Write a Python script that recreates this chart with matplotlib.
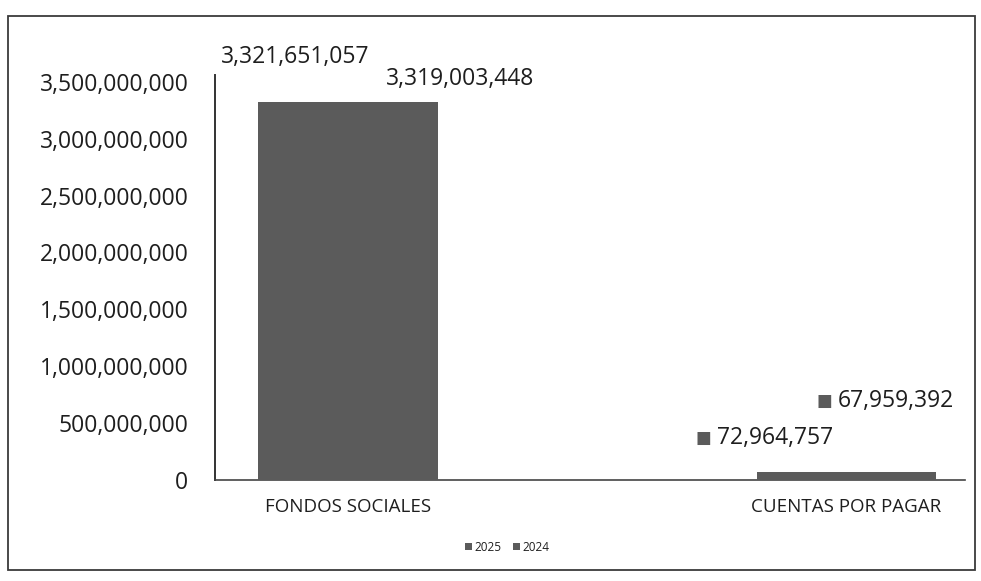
import matplotlib.pyplot as plt
from matplotlib.patches import Rectangle

categories = ["FONDOS SOCIALES", "CUENTAS POR PAGAR"]
values_2025 = [3321651057, 72964757]
values_2024 = [3319003448, 67959392]
series_names = ["2025", "2024"]
y_ticks = [0, 500000000, 1000000000, 1500000000, 2000000000, 2500000000, 3000000000, 3500000000]

plt.rcParams["font.family"] = ["Open Sans", "DejaVu Sans"]

fig = plt.figure(figsize=(9.81, 5.81), dpi=100)
ax = fig.add_axes([0.219, 0.174, 0.765, 0.697])

bar_color = "#5b5b5b"
text_color = "#1e1e1e"
label_size = 16.5
x = list(range(len(categories)))

bars_2024 = ax.bar(x, values_2024, width=0.36, color=bar_color, label=series_names[1], zorder=2)
bars_2025 = ax.bar(x, values_2025, width=0.36, color=bar_color, label=series_names[0], zorder=3)

ax.set_xlim(-0.267, 1.239)
ax.set_ylim(0, 3.56e9)
ax.set_yticks(y_ticks)
ax.set_yticklabels([f"{v:,}" for v in y_ticks], fontsize=label_size, color=text_color)
ax.set_xticks(x)
ax.set_xticklabels(categories, fontsize=13.5, color=text_color)
ax.tick_params(axis="both", length=0)
ax.tick_params(axis="y", pad=19)
ax.tick_params(axis="x", pad=13)
for side in ["top", "right"]:
    ax.spines[side].set_visible(False)
ax.spines["left"].set_color("#333333")
ax.spines["left"].set_linewidth(1.4)
ax.spines["bottom"].set_color("#444444")
ax.spines["bottom"].set_linewidth(1.2)

# data labels
ax.text(-0.106, 3.72e9, f"{values_2025[0]:,}", ha="center", va="center",
        fontsize=label_size, color=text_color, clip_on=False)
ax.text(0.225, 3.52e9, f"{values_2024[0]:,}", ha="center", va="center",
        fontsize=label_size, color=text_color, clip_on=False)
ax.text(0.698, 0.37e9, "■", ha="left", va="center", fontsize=12, color=bar_color,
        family=["DejaVu Sans"])
ax.text(0.740, 0.37e9, f"{values_2025[1]:,}", ha="left", va="center",
        fontsize=label_size, color=text_color)
ax.text(0.941, 0.69e9, "■", ha="left", va="center", fontsize=12, color=bar_color,
        family=["DejaVu Sans"])
ax.text(0.983, 0.69e9, f"{values_2024[1]:,}", ha="left", va="center",
        fontsize=label_size, color=text_color, clip_on=False)

leg = fig.legend(handles=[bars_2025, bars_2024], labels=series_names, loc="center",
                 bbox_to_anchor=(0.517, 0.058), ncol=2, frameon=False, fontsize=8.5,
                 handlelength=0.6, handleheight=0.6, handletextpad=0.2, columnspacing=1.0)
for t in leg.get_texts():
    t.set_color(text_color)

fig.patches.append(Rectangle((0.008, 0.019), 0.986, 0.953, transform=fig.transFigure,
                             fill=False, edgecolor="#3a3a3a", linewidth=1.3))

fig.savefig("out.png", dpi=100, facecolor="white")
